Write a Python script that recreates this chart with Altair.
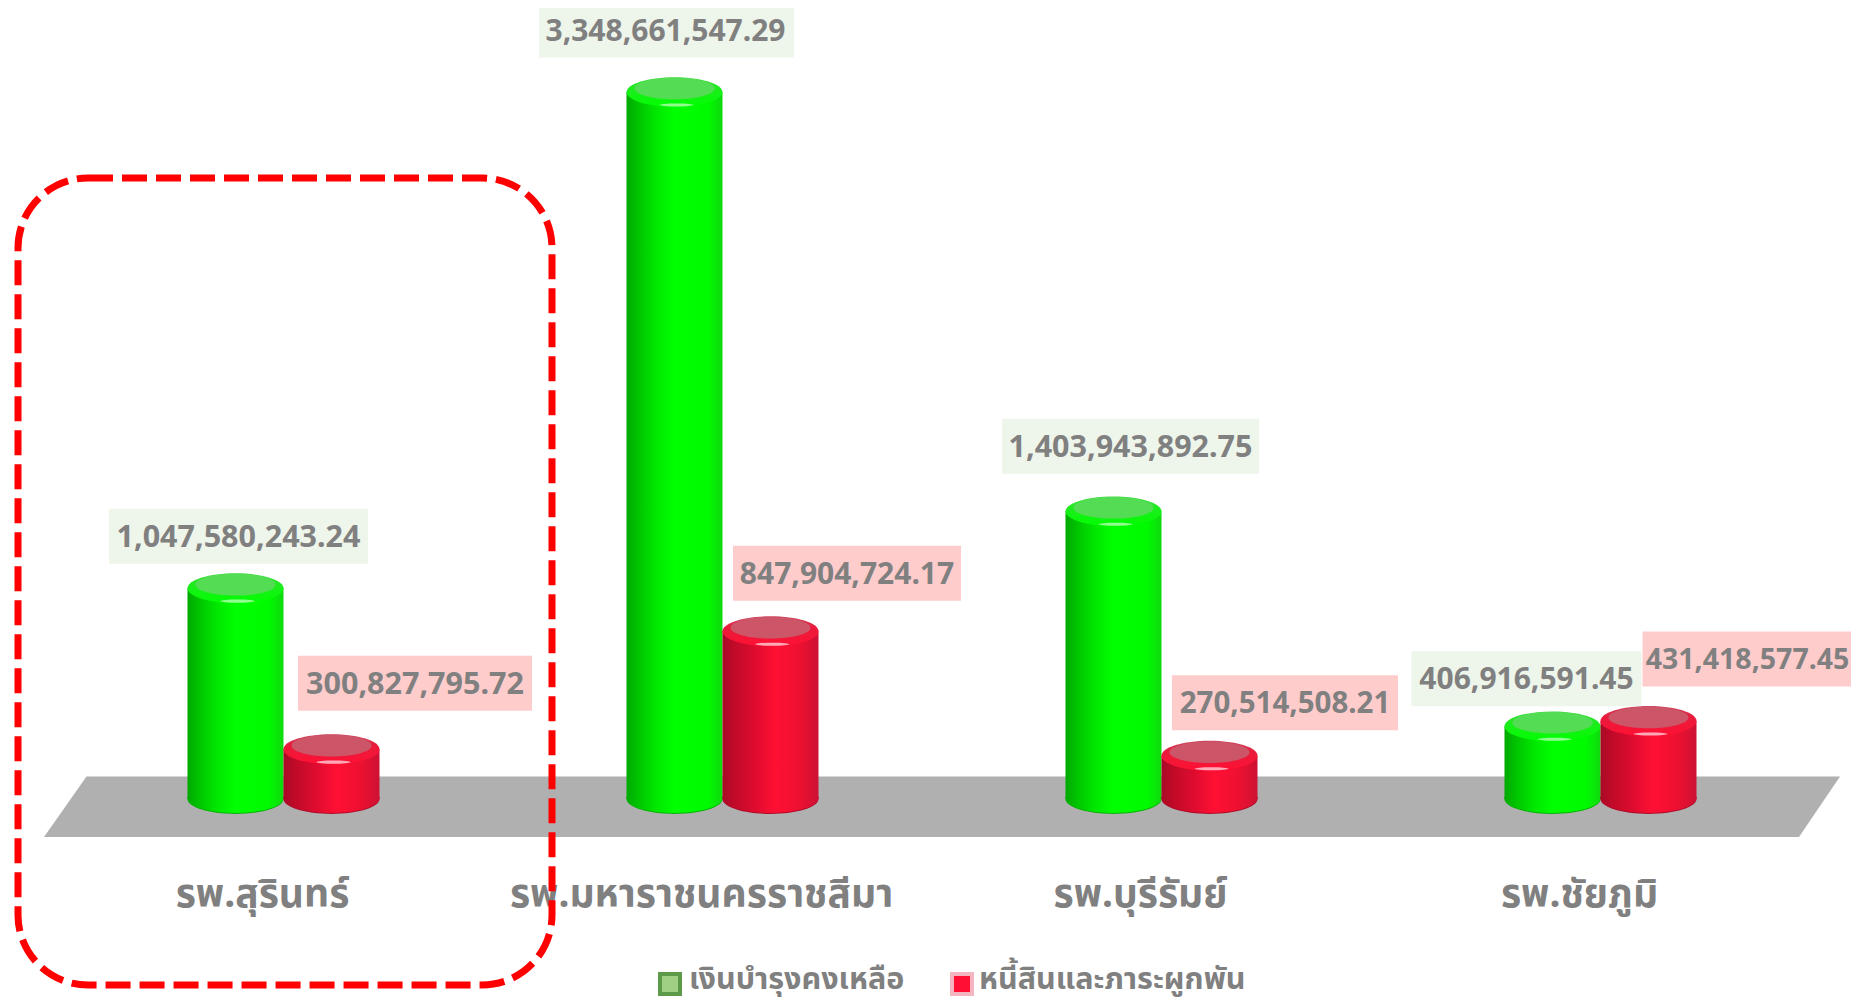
import altair as alt
import pandas as pd

hospitals = ["รพ.สุรินทร์", "รพ.มหาราชนครราชสีมา", "รพ.บุรีรัมย์", "รพ.ชัยภูมิ"]
reserve = [1047580243.24, 3348661547.29, 1403943892.75, 406916591.45]
liabilities = [300827795.72, 847904724.17, 270514508.21, 431418577.45]
series_names = ["เงินบำรุงคงเหลือ", "หนี้สินและภาระผูกพัน"]

W, H = 1843, 990
K = 0.2156e-6
Y0 = 791
FONT = "Noto Sans, Noto Sans Thai, Kanit, sans-serif"
GREY = "#808080"

xs = alt.X("h:N", sort=hospitals, axis=None,
           scale=alt.Scale(domain=hospitals, range=[56, 1812], paddingInner=0, paddingOuter=0))
y_scale = alt.Scale(domain=[(Y0 - H) / K, Y0 / K], range=[H, 0], nice=False, zero=False)
ys = alt.Y("v:Q", axis=None, stack=None, scale=y_scale)
ys_base = alt.Y("base:Q", axis=None, stack=None, scale=y_scale)


def grad_h(stops):
    return alt.Gradient(gradient="linear", x1=0, x2=1, y1=0, y2=0,
                        stops=[alt.GradientStop(offset=o, color=c) for o, c in stops])


def grad_v(stops):
    return alt.Gradient(gradient="linear", x1=0, x2=0, y1=0, y2=1,
                        stops=[alt.GradientStop(offset=o, color=c) for o, c in stops])


def ellipse(ratio):
    return f"M-1,0A1,{ratio} 0 1,1 1,0A1,{ratio} 0 1,1 -1,0Z"


def poly(points):
    return "M" + "L".join(f"{x},{y}" for x, y in points) + "Z"


layers = []

# floor
layers.append(
    alt.Chart(pd.DataFrame({"a": [0]})).mark_point(
        shape=poly([(78.5, 768.5), (1832, 768.5), (1791, 829), (36, 829)]),
        size=4, filled=True, fill="#b0b0b0", opacity=1
    ).encode(x=alt.value(0), y=alt.value(0))
)

STYLE = [
    dict(shift=-48,
         body=[(0, "#00a800"), (0.12, "#00c400"), (0.3, "#00e600"), (0.5, "#00ff00"), (0.85, "#00fa00"), (1, "#10d810")],
         under="#00b400",
         rim=[(0, "#48dc48"), (0.35, "#20ea20"), (1, "#00ff00")],
         face="#55dc55", spark="#90ff90"),
    dict(shift=48,
         body=[(0, "#a80a28"), (0.12, "#c00a28"), (0.35, "#e00c30"), (0.55, "#ff1033"), (0.8, "#ee1030"), (1, "#cc1234")],
         under="#b00a28",
         rim=[(0, "#cc4860"), (0.35, "#e81c3c"), (1, "#ff1033")],
         face="#cc5568", spark="#ffa8b8"),
]

for vals, st in zip([reserve, liabilities], STYLE):
    df = pd.DataFrame({"h": hospitals, "v": vals, "base": [0.0] * 4})
    base = alt.Chart(df).encode(x=xs)
    s = st["shift"]
    layers.append(base.mark_point(shape=ellipse(0.31), size=96 ** 2, filled=True, opacity=1,
                                  fill=st["under"], xOffset=s, yOffset=0
                                  ).encode(y=ys_base))
    layers.append(base.mark_point(shape=ellipse(0.31), size=96 ** 2, filled=True, opacity=1,
                                  fill=grad_h(st["body"]), xOffset=s, yOffset=-1
                                  ).encode(y=ys_base))
    layers.append(base.mark_bar(width=96, xOffset=s, yOffset=15, color=grad_h(st["body"])
                                ).encode(y=ys, y2=alt.Y2("base:Q")))
    layers.append(base.mark_point(shape=ellipse(0.31), size=96 ** 2, filled=True, opacity=1,
                                  fill=grad_v(st["rim"]), xOffset=s, yOffset=15
                                  ).encode(y=ys))
    layers.append(base.mark_point(shape=ellipse(0.27), size=80 ** 2, filled=True, opacity=1,
                                  fill=st["face"], xOffset=s, yOffset=11.5
                                  ).encode(y=ys))
    layers.append(base.mark_point(shape=ellipse(0.09), size=34 ** 2, filled=True, opacity=1,
                                  fill=st["spark"], xOffset=s + 2, yOffset=28
                                  ).encode(y=ys))

# value labels: (box nudge x, nudge y, box width, text nudge x, font size) relative to group centre and bar top
nudges = [
    [(-45, -37, 259, -45, 30.5), (-56, -47, 255, -57, 30), (-31, -50, 257, -31, 30.5), (-74, -32.5, 230, -74, 30)],
    [(131.5, -51, 234, 131.5, 30.5), (124.5, -43, 228, 124.5, 30), (123.5, -38, 226, 123.5, 29.5), (150, -47, 216, 147, 28.5)],
]
box_fill = ["#eef5ea", "#ffcccc"]
for vals, nud, fill in zip([reserve, liabilities], nudges, box_fill):
    for h, v, (dx, dy, w, tdx, fs) in zip(hospitals, vals, nud):
        d = pd.DataFrame({"h": [h], "v": [v], "t": [f"{v:,.2f}"]})
        c = alt.Chart(d).encode(x=xs, y=ys)
        r = 55 / w
        layers.append(c.mark_point(shape=poly([(-1, -r), (1, -r), (1, r), (-1, r)]), size=w ** 2,
                                   filled=True, fill=fill, opacity=1, xOffset=dx, yOffset=dy))
        layers.append(c.mark_text(font=FONT, fontSize=fs, fontWeight="bold", color=GREY,
                                  baseline="middle", align="center", dx=tdx, dy=dy + 1.5
                                  ).encode(text="t:N"))

# category labels
layers.append(
    alt.Chart(pd.DataFrame({"h": hospitals})).mark_text(
        font=FONT, fontSize=39, fontWeight="bold", color=GREY, baseline="middle", align="center", dx=-21
    ).encode(x=xs, y=alt.value(887), text="h:N")
)

# legend
legend_rows = [
    (650, 24, "#5c9a48", "#9fd083", 681, series_names[0]),
    (942, 24, "#f5b5c0", "#ff1033", 971, series_names[1]),
]
for x0, sz, outer, inner, tx, label in legend_rows:
    for pad, col in ((0, outer), (4, inner)):
        layers.append(alt.Chart(pd.DataFrame({"a": [0]})).mark_rect(fill=col).encode(
            x=alt.value(x0 + pad), x2=alt.value(x0 + sz - pad),
            y=alt.value(964 + pad), y2=alt.value(964 + sz - pad)))
    layers.append(alt.Chart(pd.DataFrame({"t": [label]})).mark_text(
        font=FONT, fontSize=30.5, fontWeight="bold", color=GREY, baseline="middle", align="left"
    ).encode(x=alt.value(tx), y=alt.value(972), text="t:N"))

# dashed highlight box
layers.append(
    alt.Chart(pd.DataFrame({"a": [0]})).mark_rect(
        cornerRadius=70, fill="transparent", stroke="#ff0000", strokeWidth=7, strokeDash=[25, 9]
    ).encode(x=alt.value(10), x2=alt.value(544), y=alt.value(170), y2=alt.value(977))
)

chart = alt.layer(*layers).properties(
    width=W, height=H, padding=0, autosize=alt.AutoSizeParams(type="none"),
    background="white"
).configure_view(strokeWidth=0)

chart.save("out.html", embed_options={"renderer": "svg", "actions": False})
